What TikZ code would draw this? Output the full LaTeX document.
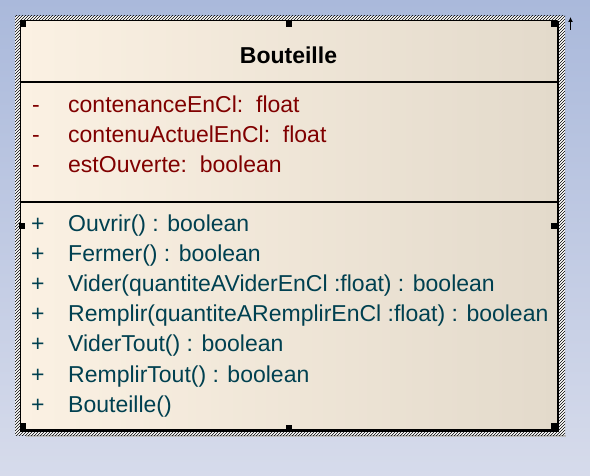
\documentclass[tikz,border=0pt]{standalone}
\usepackage{fontspec}
\setmainfont{Liberation Sans}
\usetikzlibrary{patterns,arrows.meta}

\definecolor{attrred}{RGB}{128,0,0}
\definecolor{opteal}{RGB}{0,64,80}
\definecolor{boxleft}{RGB}{251,241,227}
\definecolor{boxright}{RGB}{227,218,203}
\definecolor{bgtop}{RGB}{170,185,219}
\definecolor{bgbottom}{RGB}{214,219,235}

\begin{document}
\begin{tikzpicture}[x=1pt, y=-1pt,
  membertext/.style={anchor=base west, inner sep=0pt, font=\fontsize{23}{26}\selectfont},
  attrtext/.style={membertext, text=attrred},
  optext/.style={membertext, text=opteal},
  handle/.style={fill=black}]
  % background
  \useasboundingbox (0,0) rectangle (590,476);
  \shade[top color=bgtop, bottom color=bgbottom] (0,0) rectangle (590,476);

  % selection frame
  \fill[black!25] (26,435) rectangle (566,437);
  \fill[white] (15,16) rectangle (565,435);
  \fill[pattern=north east lines] (15,16) rectangle (565,435);

  % class box
  \shade[left color=boxleft, right color=boxright] (20,21) rectangle (557,430);
  \draw[black, line width=1pt] (20,430) -- (20,21) -- (557,21);
  \draw[black, line width=2.5pt] (558,21) -- (558,430.5) -- (19.5,430.5);
  \draw[black, line width=1.6pt] (20,82) -- (557,82);
  \draw[black, line width=1.6pt] (20,202) -- (557,202);

  % handles
  \fill[handle] (20,21) rectangle ++(6,6);
  \fill[handle] (285.5,21) rectangle ++(6,6);
  \fill[handle] (551,21) rectangle ++(6,6);
  \fill[handle] (19,223) rectangle ++(6,6);
  \fill[handle] (551,223) rectangle ++(6,6);
  \fill[handle] (20,423) rectangle ++(6,6);
  \fill[handle] (286,425) rectangle ++(6,6);
  \fill[handle] (551,423) rectangle ++(6,6);

  % title
  \node[anchor=base, inner sep=0pt, font=\fontsize{23}{26}\selectfont\bfseries] (title) at (288.5,64) {Bouteille};

  % attributes
  \node[attrtext] (v1) at (32,113) {-};
  \node[attrtext] (a1) at (68,113) {contenanceEnCl:\ \ float};
  \node[attrtext] (v2) at (32,143) {-};
  \node[attrtext] (a2) at (68,143) {contenuActuelEnCl:\ \ float};
  \node[attrtext] (v3) at (32,173) {-};
  \node[attrtext] (a3) at (68,173) {estOuverte:\ \ boolean};

  % operations
  \node[optext] (w1) at (31,232) {+};
  \node[optext] (o1) at (68,232) {Ouvrir() : boolean};
  \node[optext] (w2) at (31,262) {+};
  \node[optext] (o2) at (68,262) {Fermer() : boolean};
  \node[optext] (w3) at (31,292) {+};
  \node[optext] (o3) at (68,292) {Vider(quantiteAViderEnCl :float) : boolean};
  \node[optext] (w4) at (31,322) {+};
  \node[optext] (o4) at (68,322) {Remplir(quantiteARemplirEnCl :float) : boolean};
  \node[optext] (w5) at (31,352) {+};
  \node[optext] (o5) at (68,352) {ViderTout() : boolean};
  \node[optext] (w6) at (31,382) {+};
  \node[optext] (o6) at (68,382) {RemplirTout() : boolean};
  \node[optext] (w7) at (31,412) {+};
  \node[optext] (o7) at (68,412) {Bouteille()};

  % resize arrow
  \coordinate (arrowfoot) at (570.5,30);
  \coordinate (arrowtip) at (570.5,17);
  \draw[line width=1pt, -{Latex[length=5pt,width=5pt]}] (arrowfoot) -- (arrowtip);
\end{tikzpicture}
\end{document}
